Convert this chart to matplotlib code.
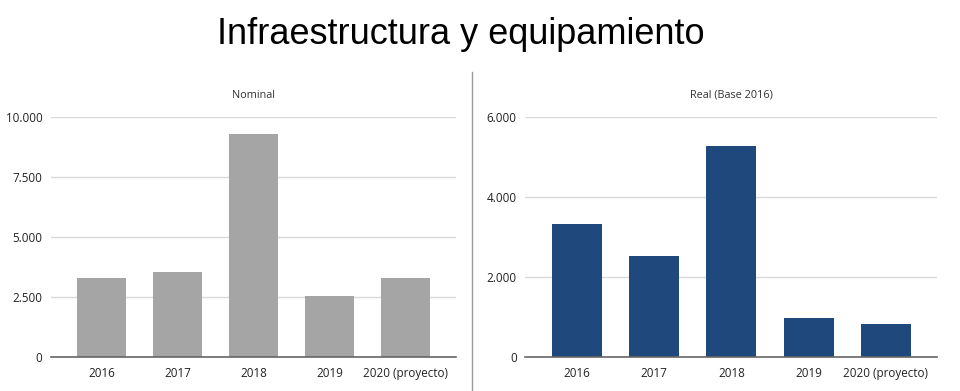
import matplotlib.pyplot as plt
from matplotlib.ticker import FuncFormatter

YEARS = ["2016", "2017", "2018", "2019", "2020 (proyecto)"]
NOMINAL = [3320, 3540, 9290, 2570, 3320]
REAL = [3330, 2530, 5275, 985, 825]

GREY = "#A5A5A5"
BLUE = "#1F497C"
BODY_FONT = "Open Sans"


def thousands(v, _):
    return f"{v:,.0f}".replace(",", ".")


def draw_panel(ax, values, color, title, ymax, step):
    ax.bar(range(len(YEARS)), values, width=0.645, color=color, zorder=3)
    ax.set_xlim(-0.67, len(YEARS) - 1 + 0.66)
    ax.set_ylim(0, ymax)
    ax.set_yticks(range(0, ymax + 1, step))
    ax.yaxis.set_major_formatter(FuncFormatter(thousands))
    ax.set_xticks(range(len(YEARS)))
    ax.set_xticklabels(YEARS)
    ax.tick_params(length=0, labelsize=8.4, colors="#222222")
    ax.tick_params(axis="x", pad=7)
    ax.tick_params(axis="y", pad=6)
    for lbl in ax.get_xticklabels() + ax.get_yticklabels():
        lbl.set_fontfamily(BODY_FONT)
    ax.grid(axis="y", color="#D9D9D9", lw=1, zorder=0)
    for s in ["top", "right", "left"]:
        ax.spines[s].set_visible(False)
    ax.spines["bottom"].set_color("#666666")
    ax.spines["bottom"].set_linewidth(1.2)
    ax.spines["bottom"].set_zorder(4)
    ax.set_title(title, fontsize=7.8, fontfamily=BODY_FONT, color="#333333", pad=14)


fig = plt.figure(figsize=(9.6, 3.91), dpi=100)
fig.patch.set_facecolor("white")

ax1 = fig.add_axes([50.7 / 960, 1 - 357.3 / 391, 405.3 / 960, 240 / 391])
ax2 = fig.add_axes([525 / 960, 1 - 357.3 / 391, 412 / 960, 240 / 391])

draw_panel(ax1, NOMINAL, GREY, "Nominal", 10000, 2500)
draw_panel(ax2, REAL, BLUE, "Real (Base 2016)", 6000, 2000)

# separator between panels
fig.add_artist(plt.Line2D([472 / 960, 472 / 960], [0, 1 - 72 / 391],
                          color="#999999", lw=1))

fig.text(461 / 960, 1 - 35 / 391, "Infraestructura y equipamiento", fontsize=26,
         fontfamily="Liberation Sans", ha="center", va="center", color="black")

fig.savefig("out.png", dpi=100, facecolor="white")
